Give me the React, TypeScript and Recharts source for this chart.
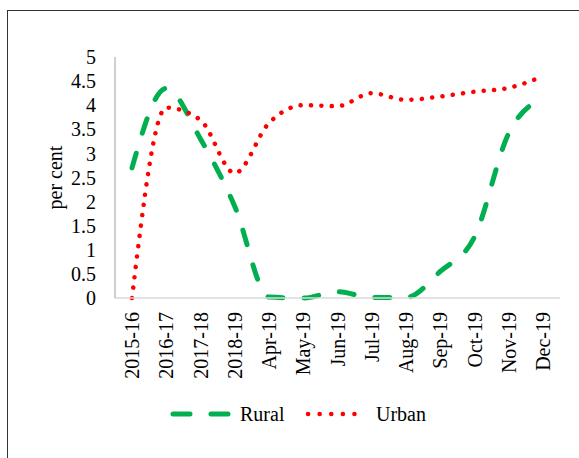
import React from 'react';
import { LineChart, Line, XAxis, YAxis, Legend } from 'recharts';

const categories = ['2015-16', '2016-17', '2017-18', '2018-19', 'Apr-19', 'May-19', 'Jun-19', 'Jul-19', 'Aug-19', 'Sep-19', 'Oct-19', 'Nov-19', 'Dec-19'];
const rural = [2.7, 4.35, 3.3, 1.9, 0.02, 0.0, 0.13, 0.01, 0.01, 0.55, 1.27, 3.42, 4.15];
const urban = [0.0, 3.95, 3.69, 2.59, 3.63, 4.0, 3.98, 4.25, 4.11, 4.18, 4.28, 4.36, 4.6];
const yTicks = [0, 0.5, 1, 1.5, 2, 2.5, 3, 3.5, 4, 4.5, 5];

const data = categories.map((c, i) => ({ name: c, Rural: rural[i], Urban: urban[i] }));

const FONT = '"Liberation Serif", "Times New Roman", serif';
const GREEN = '#00B050';
const RED = '#FF0000';

const XTick = (props: any) => {
  const { x, y, payload } = props;
  return (
    <text
      x={x}
      y={y}
      transform={`rotate(-90, ${x}, ${y})`}
      textAnchor="end"
      dominantBaseline="central"
      fontFamily={FONT}
      fontSize={20}
      fill="#000"
    >
      {payload.value}
    </text>
  );
};

const LegendContent = () => (
  <div style={{ position: 'relative', width: 579, height: 30, fontFamily: FONT, fontSize: 20, color: '#000' }}>
    <svg width={579} height={30} style={{ position: 'absolute', left: 0, top: 0 }}>
      <line x1={173} y1={15} x2={229} y2={15} stroke={GREEN} strokeWidth={5} strokeLinecap="round" strokeDasharray="17 21" />
      <line x1={308} y1={15} x2={366} y2={15} stroke={RED} strokeWidth={4.5} strokeLinecap="round" strokeDasharray="0.1 11.5" />
      <text x={240} y={15} dominantBaseline="central" fontFamily={FONT} fontSize={20} fill="#000">Rural</text>
      <text x={376} y={15} dominantBaseline="central" fontFamily={FONT} fontSize={20} fill="#000">Urban</text>
    </svg>
  </div>
);

export default function App() {
  return (
    <div style={{ position: 'absolute', left: 0, top: 0, width: 579, height: 458, background: '#fff' }}>
      <div
        style={{
          position: 'absolute',
          left: 7,
          top: 10,
          width: 572,
          height: 448,
          boxSizing: 'border-box',
          borderTop: '1px solid #333',
          borderLeft: '1px solid #333',
        }}
      />
      <div style={{ position: 'absolute', left: 0, top: 0 }}>
        <LineChart width={579} height={458} data={data} margin={{ top: 57, right: 19, left: 0, bottom: 40 }}>
          <XAxis
            dataKey="name"
            interval={0}
            tick={<XTick />}
            tickLine={false}
            tickSize={0}
            tickMargin={14}
            height={90}
            padding={{ left: 17, right: 17 }}
            axisLine={{ stroke: '#D9D9D9', strokeWidth: 1.5 }}
          />
          <YAxis
            domain={[0, 5]}
            ticks={yTicks}
            interval={0}
            width={115}
            tickLine={false}
            tickSize={0}
            tickMargin={19}
            axisLine={{ stroke: '#BFBFBF', strokeWidth: 1.5 }}
            tick={{ fontFamily: FONT, fontSize: 20, fill: '#000' }}
            label={{ value: 'per cent', angle: -90, position: 'insideLeft', dx: 50, style: { fontFamily: FONT, fontSize: 20, fill: '#000', textAnchor: 'middle' } }}
          />
          <Legend verticalAlign="bottom" wrapperStyle={{ top: 399, left: 0, width: 579 }} content={<LegendContent />} />
          <Line
            type="monotone"
            dataKey="Rural"
            stroke={GREEN}
            strokeWidth={5}
            strokeLinecap="round"
            strokeDasharray="15 21"
            dot={false}
            activeDot={false}
            isAnimationActive={false}
          />
          <Line
            type="monotone"
            dataKey="Urban"
            stroke={RED}
            strokeWidth={4.5}
            strokeLinecap="round"
            strokeDasharray="0.1 10.3"
            dot={false}
            activeDot={false}
            isAnimationActive={false}
          />
        </LineChart>
      </div>
    </div>
  );
}
